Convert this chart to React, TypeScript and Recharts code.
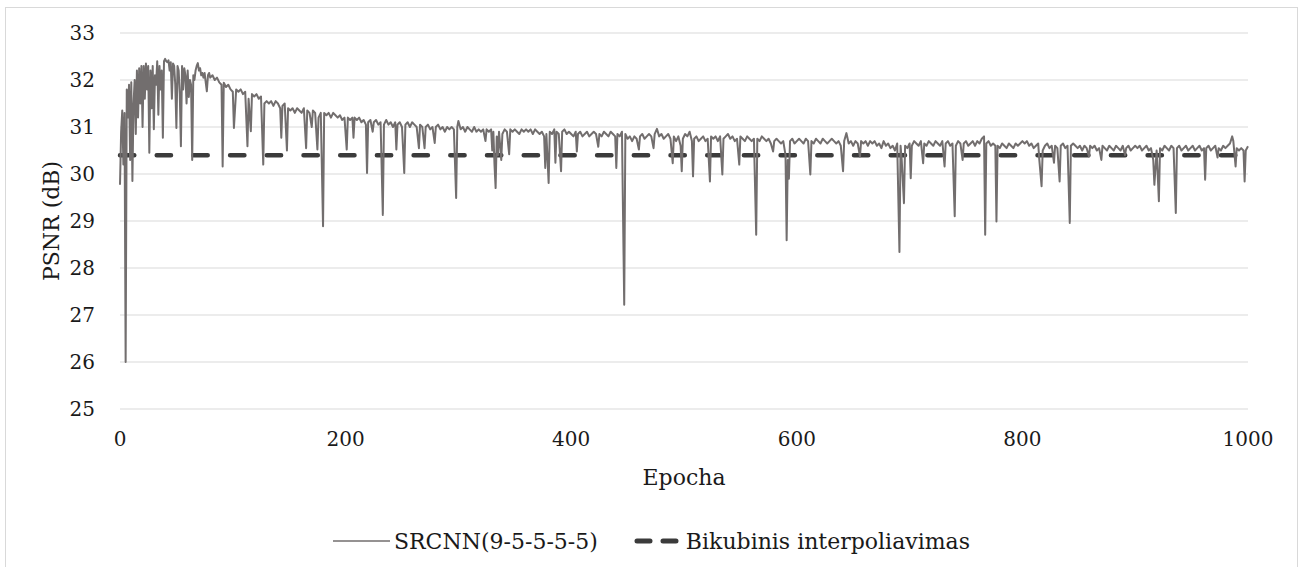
import React from "react";
import { LineChart, Line, XAxis, YAxis, CartesianGrid, Label } from "recharts";

// SRCNN(9-5-5-5-5) PSNR per epoch as [epoch, dB]
const psnr0to100: [number, number][] = [
  [0, 29.77], [1, 30.9], [2, 31.35], [3, 30.2], [4, 31.3], [5, 26.0], [6, 31.8], [7, 31.2], [8, 31.9], [9, 30.3],
  [10, 31.95], [11, 29.85], [12, 31.5], [13, 32.0], [14, 30.85], [15, 32.2], [16, 31.2], [17, 32.25], [18, 31.5], [19, 32.3],
  [20, 31.0], [21, 32.3], [22, 31.6], [23, 32.35], [24, 31.8], [25, 32.3], [26, 30.45], [27, 32.2], [28, 31.4], [29, 32.3],
  [30, 30.95], [31, 32.1], [32, 31.9], [33, 32.4], [34, 31.26], [35, 32.3], [36, 31.8], [37, 32.2], [38, 30.77], [39, 32.4],
  [40, 32.45], [41, 32.4], [42, 32.38], [43, 32.42], [44, 32.2], [45, 32.38], [46, 31.6], [47, 32.35], [48, 32.3], [49, 31.9],
  [50, 30.98], [51, 32.3], [52, 32.2], [53, 31.7], [54, 30.59], [55, 32.3], [56, 31.8], [57, 32.25], [58, 32.1], [59, 31.5],
  [60, 32.2], [61, 31.64], [62, 32.0], [63, 31.9], [64, 30.3], [65, 32.1], [66, 32.0], [67, 32.2], [68, 32.3], [69, 32.36],
  [70, 32.2], [71, 32.25], [72, 32.1], [73, 32.15], [74, 32.05], [75, 32.15], [76, 31.95], [77, 31.76], [78, 32.1], [79, 32.15],
  [80, 32.05], [82, 32.1], [84, 32.0], [86, 32.05], [88, 31.95], [90, 31.9], [91, 30.16], [92, 31.94], [94, 31.85], [96, 31.9],
  [98, 31.8], [100, 31.75],
];

const psnr100to200: [number, number][] = [
  [101, 30.98], [103, 31.8], [105, 31.75], [107, 31.8], [109, 31.7], [111, 31.75], [113, 30.59], [114, 31.6], [116, 30.91], [117, 31.7],
  [119, 31.65], [121, 31.7], [123, 31.6], [125, 31.65], [127, 30.2], [128, 31.5], [130, 31.55], [132, 31.5], [134, 31.55], [136, 31.45],
  [138, 31.55], [140, 31.5], [142, 31.4], [143, 30.77], [144, 31.45], [146, 31.5], [148, 30.5], [149, 31.4], [151, 31.35], [153, 31.4],
  [155, 31.3], [157, 31.4], [159, 31.35], [161, 31.3], [163, 31.4], [165, 30.55], [166, 31.35], [168, 31.3], [170, 31.0], [171, 31.35],
  [173, 31.3], [175, 30.52], [176, 31.2], [178, 31.3], [180, 28.89], [181, 31.3], [183, 31.25], [185, 31.3], [187, 31.2], [189, 31.3],
  [191, 31.25], [193, 31.2], [195, 31.25], [197, 31.15], [199, 31.2],
];

const psnr200to300: [number, number][] = [
  [201, 30.52], [202, 31.2], [204, 31.15], [206, 31.2], [207, 30.77], [208, 31.2], [210, 31.15], [212, 31.2], [214, 31.1], [216, 31.15],
  [218, 31.05], [219, 30.02], [220, 31.1], [222, 31.15], [224, 30.9], [225, 31.1], [227, 31.15], [229, 31.05], [231, 31.1], [233, 29.13],
  [234, 31.05], [236, 31.15], [238, 31.05], [240, 31.1], [242, 31.0], [244, 31.1], [245, 30.52], [246, 31.05], [248, 31.1], [250, 31.0],
  [252, 30.02], [253, 31.05], [255, 31.1], [257, 31.0], [259, 31.1], [261, 31.05], [263, 31.0], [265, 30.55], [266, 31.05], [268, 31.0],
  [270, 30.55], [271, 31.0], [273, 31.05], [275, 30.95], [277, 31.0], [279, 30.66], [280, 31.0], [282, 31.05], [284, 30.95], [286, 31.0],
  [288, 30.9], [290, 31.0], [292, 30.95], [294, 31.0], [296, 30.95], [298, 29.49], [299, 31.0],
];

const psnr300to400: [number, number][] = [
  [300, 31.13], [302, 30.95], [304, 31.0], [306, 30.9], [308, 31.0], [310, 30.95], [312, 30.9], [314, 31.0], [316, 30.9], [318, 30.95],
  [320, 30.9], [322, 30.95], [324, 30.7], [325, 30.95], [327, 30.9], [329, 30.95], [330, 30.5], [331, 30.9], [332, 30.2], [333, 29.7],
  [334, 30.8], [335, 30.4], [336, 30.9], [338, 30.3], [339, 30.85], [341, 30.95], [343, 30.9], [345, 30.42], [346, 30.95], [348, 30.9],
  [350, 30.95], [352, 30.9], [354, 30.85], [356, 30.95], [358, 30.9], [360, 30.95], [362, 30.9], [364, 30.95], [366, 30.85], [368, 30.95],
  [370, 30.9], [372, 30.85], [374, 30.9], [376, 30.8], [377, 30.13], [378, 30.85], [380, 29.81], [381, 30.9], [383, 30.85], [385, 30.95],
  [386, 30.24], [387, 30.9], [389, 30.85], [391, 30.06], [392, 30.9], [394, 30.95], [396, 30.85], [398, 30.9], [400, 30.85],
];

const psnr400to500: [number, number][] = [
  [402, 30.8], [404, 30.9], [405, 30.48], [406, 30.85], [408, 30.9], [410, 30.8], [412, 30.85], [414, 30.9], [416, 30.8], [418, 30.85],
  [420, 30.9], [422, 30.85], [424, 30.58], [425, 30.85], [427, 30.8], [429, 30.9], [431, 30.85], [433, 30.8], [435, 30.9], [437, 30.85],
  [439, 30.8], [440, 30.13], [441, 30.85], [443, 30.8], [445, 30.9], [447, 27.22], [448, 30.85], [450, 30.75], [452, 30.8], [454, 30.7],
  [456, 30.8], [458, 30.75], [460, 30.52], [461, 30.8], [463, 30.85], [465, 30.75], [467, 30.8], [469, 30.85], [471, 30.8], [473, 30.55],
  [474, 30.85], [476, 30.96], [478, 30.8], [480, 30.85], [482, 30.75], [484, 30.8], [486, 30.85], [488, 30.75], [490, 30.23], [491, 30.8],
  [493, 30.7], [495, 30.8], [497, 30.6], [498, 30.06], [499, 30.75],
];

const psnr500to600: [number, number][] = [
  [501, 30.85], [503, 30.8], [505, 30.9], [507, 30.7], [508, 29.95], [509, 30.75], [511, 30.8], [513, 30.7], [515, 30.75], [517, 30.8],
  [519, 30.7], [521, 30.75], [523, 29.84], [524, 30.8], [526, 30.75], [528, 30.8], [530, 30.7], [532, 30.8], [534, 29.99], [535, 30.75],
  [537, 30.8], [539, 30.85], [541, 30.75], [543, 30.8], [545, 30.7], [547, 30.75], [549, 30.2], [550, 30.8], [552, 30.75], [554, 30.7],
  [556, 30.8], [558, 30.75], [560, 30.7], [562, 30.75], [564, 28.71], [565, 30.75], [567, 30.7], [569, 30.8], [571, 30.75], [573, 30.7],
  [575, 30.75], [577, 30.65], [579, 30.48], [580, 30.7], [582, 30.75], [584, 30.7], [586, 30.65], [588, 30.7], [590, 30.4], [591, 28.59],
  [592, 30.3], [593, 29.9], [594, 30.7], [596, 30.75], [598, 30.65], [600, 30.7],
];

const psnr600to700: [number, number][] = [
  [602, 30.75], [604, 30.7], [606, 30.65], [608, 30.75], [610, 30.7], [612, 29.99], [613, 30.7], [615, 30.65], [617, 30.75], [619, 30.7],
  [621, 30.65], [623, 30.75], [625, 30.7], [627, 30.65], [629, 30.7], [631, 30.75], [633, 30.7], [635, 30.65], [637, 30.7], [639, 30.6],
  [641, 30.06], [642, 30.7], [644, 30.87], [646, 30.65], [648, 30.7], [650, 30.6], [652, 30.7], [654, 30.65], [656, 30.37], [657, 30.7],
  [659, 30.65], [661, 30.7], [663, 30.6], [665, 30.7], [667, 30.65], [669, 30.7], [671, 30.6], [673, 30.65], [675, 30.55], [677, 30.7],
  [679, 30.6], [681, 30.65], [683, 30.55], [685, 30.6], [687, 30.5], [689, 30.65], [691, 28.34], [692, 30.6], [693, 30.3], [695, 29.38],
  [696, 30.6], [698, 30.55], [700, 30.65],
];

const psnr700to800: [number, number][] = [
  [701, 29.91], [702, 30.6], [704, 30.7], [706, 30.65], [708, 30.6], [710, 30.7], [712, 30.23], [713, 30.65], [715, 30.6], [717, 30.7],
  [719, 30.65], [721, 30.6], [723, 30.7], [725, 30.65], [727, 30.6], [729, 30.7], [731, 30.16], [732, 30.65], [734, 30.7], [736, 30.6],
  [738, 30.65], [740, 29.1], [741, 30.6], [743, 30.7], [745, 30.65], [747, 30.3], [748, 30.65], [750, 30.7], [752, 30.6], [754, 30.65],
  [756, 30.7], [758, 30.6], [760, 30.7], [762, 30.65], [764, 30.75], [766, 30.8], [767, 28.71], [768, 30.65], [770, 30.7], [772, 30.6],
  [774, 30.65], [776, 30.6], [777, 28.99], [778, 30.6], [780, 30.55], [782, 30.65], [784, 30.6], [786, 30.55], [788, 30.65], [790, 30.6],
  [792, 30.55], [794, 30.65], [796, 30.6], [798, 30.65], [800, 30.7],
];

const psnr800to900: [number, number][] = [
  [802, 30.65], [804, 30.7], [806, 30.6], [808, 30.65], [810, 30.55], [812, 30.6], [814, 30.65], [815, 30.3], [817, 29.74], [818, 30.5],
  [820, 30.6], [822, 30.65], [824, 30.55], [826, 30.6], [828, 30.24], [829, 30.6], [831, 30.55], [833, 29.84], [834, 30.6], [836, 30.65],
  [838, 30.55], [840, 30.6], [842, 28.96], [843, 30.6], [845, 30.65], [847, 30.6], [849, 30.55], [851, 30.6], [853, 30.5], [855, 30.6],
  [857, 30.55], [859, 30.37], [860, 30.6], [862, 30.55], [864, 30.6], [866, 30.5], [868, 30.55], [870, 30.3], [871, 30.6], [873, 30.55],
  [875, 30.5], [877, 30.6], [879, 30.55], [881, 30.5], [883, 30.6], [885, 30.55], [887, 30.5], [889, 30.6], [891, 30.4], [892, 30.55],
  [894, 30.6], [896, 30.5], [898, 30.55], [900, 30.6],
];

const psnr900to1000: [number, number][] = [
  [902, 30.55], [904, 30.6], [906, 30.5], [908, 30.55], [910, 30.6], [912, 30.5], [914, 30.55], [916, 30.3], [917, 29.77], [919, 30.5],
  [921, 29.42], [922, 30.55], [924, 30.5], [926, 30.6], [928, 30.55], [930, 30.5], [932, 30.6], [934, 30.55], [936, 29.17], [937, 30.55],
  [939, 30.6], [941, 30.5], [943, 30.55], [945, 30.6], [947, 30.5], [949, 30.55], [951, 30.6], [953, 30.5], [955, 30.55], [957, 30.6],
  [959, 30.5], [961, 30.55], [962, 29.88], [963, 30.55], [965, 30.6], [967, 30.5], [969, 30.55], [971, 30.6], [973, 30.35], [974, 30.55],
  [976, 30.5], [978, 30.6], [980, 30.55], [982, 30.6], [984, 30.65], [986, 30.8], [987, 30.7], [989, 30.16], [990, 30.55], [992, 30.5],
  [994, 30.55], [996, 30.5], [997, 29.84], [998, 30.5], [1000, 30.59],
];

// bicubic interpolation baseline
const bicubicPsnr = 30.4;
const epochRange = [0, 1000];

const xTicks = [0, 200, 400, 600, 800, 1000];
const yTicks = [25, 26, 27, 28, 29, 30, 31, 32, 33];

const SRCNN_NAME = "SRCNN(9-5-5-5-5)";
const BICUBIC_NAME = "Bikubinis interpoliavimas";

const srcnnRows = [
  ...psnr0to100, ...psnr100to200, ...psnr200to300, ...psnr300to400, ...psnr400to500,
  ...psnr500to600, ...psnr600to700, ...psnr700to800, ...psnr800to900, ...psnr900to1000,
].map(([epoch, psnr]) => ({ epoch, psnr }));

const bicubicRows = epochRange.map((epoch) => ({ epoch, bicubic: bicubicPsnr }));

// only DejaVu Serif resolves to a serif face in the sandbox
const FONT = '"DejaVu Serif", serif';
const TEXT = "#1a1a1a";
const LINE_GRAY = "#726e6e";
const DASH_DARK = "#3b3b3b";

const YTitle = ({ viewBox }: any) => {
  const cx = 45;
  const cy = viewBox.y + viewBox.height / 2;
  return (
    <text x={cx} y={cy} transform={`rotate(-90 ${cx} ${cy})`} textAnchor="middle"
      dominantBaseline="central" style={{ fontFamily: FONT, fontSize: 22 }} fill={TEXT}>
      PSNR (dB)
    </text>
  );
};

export default function App() {
  return (
    <>
      <style>{"body{margin:0;background:#fff}"}</style>
      <div style={{
        position: "absolute", left: 5, top: 7, width: 1293, height: 575,
        boxSizing: "border-box", border: "1px solid #d9d9d9", background: "#fff",
      }}>
        <LineChart width={1291} height={560} margin={{ top: 25, right: 49, bottom: 99, left: 0 }}>
          <CartesianGrid vertical={false} stroke="#d9d9d9" strokeWidth={1} />
          <XAxis dataKey="epoch" type="number" domain={[0, 1000]} ticks={xTicks}
            axisLine={false} tickLine={false} tickSize={0} tickMargin={23} height={60}
            allowDuplicatedCategory={false}
            tick={{ fontSize: 20, fill: TEXT, style: { fontFamily: FONT } }}>
            <Label value="Epocha" position="bottom" offset={0}
              style={{ fontSize: 22, fill: TEXT, fontFamily: FONT }} />
          </XAxis>
          <YAxis type="number" domain={[25, 33]} ticks={yTicks} width={114}
            axisLine={false} tickLine={false} tickSize={0} tickMargin={25}
            tick={{ fontSize: 20, fill: TEXT, style: { fontFamily: FONT } }}>
            <Label content={<YTitle />} />
          </YAxis>
          <Line data={bicubicRows} dataKey="bicubic" name={BICUBIC_NAME} type="linear"
            stroke={DASH_DARK} strokeWidth={4.5} strokeDasharray="14.3 22.4" strokeLinecap="round"
            dot={false} activeDot={false} isAnimationActive={false} />
          <Line data={srcnnRows} dataKey="psnr" name={SRCNN_NAME} type="linear"
            stroke={LINE_GRAY} strokeWidth={2} strokeLinejoin="round"
            dot={false} activeDot={false} isAnimationActive={false} />
        </LineChart>
        <div style={{
          position: "absolute", left: 0, top: 516, width: 1291, height: 34,
          display: "flex", justifyContent: "center", alignItems: "center",
          fontFamily: FONT, fontSize: 22, color: TEXT,
        }}>
          <svg width={58} height={10} style={{ marginRight: 3 }}>
            <line x1={0} y1={5} x2={57} y2={5} stroke={LINE_GRAY} strokeWidth={1.5} />
          </svg>
          <span>{SRCNN_NAME}</span>
          <svg width={48} height={10} style={{ marginLeft: 36, marginRight: 4 }}>
            <line x1={3} y1={5} x2={46} y2={5} stroke={DASH_DARK} strokeWidth={5}
              strokeDasharray="13 13" strokeLinecap="round" />
          </svg>
          <span>{BICUBIC_NAME}</span>
        </div>
      </div>
    </>
  );
}
